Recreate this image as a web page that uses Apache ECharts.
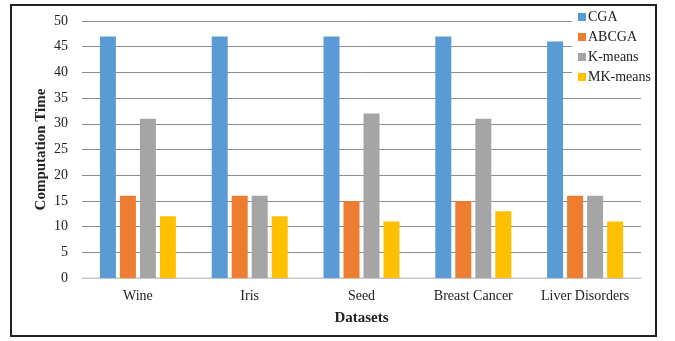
<!DOCTYPE html>
<html><head><meta charset="utf-8">
<script src="https://cdn.jsdelivr.net/npm/echarts@6/dist/echarts.min.js"></script>
<style>html,body{margin:0;padding:0;background:#fff}#c{width:675px;height:341px}</style>
</head><body><div id="c"></div>
<script>
const categories = ['Wine', 'Iris', 'Seed', 'Breast Cancer', 'Liver Disorders'];
const seriesNames = ['CGA', 'ABCGA', 'K-means', 'MK-means'];
const cga = [47, 47, 47, 47, 46];
const abcga = [16, 16, 15, 15, 16];
const kmeans = [31, 16, 32, 31, 16];
const mkmeans = [12, 12, 11, 13, 11];
const yTicks = {min: 0, max: 50, interval: 5};
const colors = ['#5B9BD5', '#ED7D31', '#A5A5A5', '#FFC000'];
const values = [cga, abcga, kmeans, mkmeans];
const font = 'Liberation Serif';

const chart = echarts.init(document.getElementById('c'));
chart.setOption({
  animation: false,
  backgroundColor: '#fff',
  textStyle: {fontFamily: font},
  graphic: [{type: 'rect', shape: {x: 11, y: 5, width: 645, height: 331}, style: {fill: 'none', stroke: '#222', lineWidth: 2}, z: -1}],
  grid: {left: 82, right: 34, top: 21, bottom: 63},
  legend: {
    orient: 'vertical', left: 572, top: 8, itemWidth: 8, itemHeight: 8, itemGap: 6,
    backgroundColor: '#fff', padding: [2, 4, 2, 6],
    textStyle: {fontFamily: font, fontSize: 14, color: '#222', padding: [0, 0, 0, -3]},
    icon: 'rect', data: seriesNames, z: 10
  },
  xAxis: {
    type: 'category', data: categories,
    name: 'Datasets', nameLocation: 'middle', nameGap: 33,
    nameTextStyle: {fontFamily: font, fontWeight: 'bold', fontSize: 15, color: '#222'},
    axisTick: {show: false},
    axisLine: {lineStyle: {color: '#d9d9d9', width: 1.5}},
    axisLabel: {fontFamily: font, fontSize: 14, color: '#222', margin: 11, interval: 0}
  },
  yAxis: {
    type: 'value', min: yTicks.min, max: yTicks.max, interval: yTicks.interval,
    name: 'Computation Time', nameLocation: 'middle', nameGap: 33, nameMoveOverlap: false,
    nameTextStyle: {fontFamily: font, fontWeight: 'bold', fontSize: 15, color: '#222'},
    axisLine: {show: false}, axisTick: {show: false},
    splitLine: {lineStyle: {color: '#8c8c8c', width: 1}},
    axisLabel: {fontFamily: font, fontSize: 14, color: '#222', margin: 14}
  },
  series: seriesNames.map((n, i) => ({
    name: n, type: 'bar', data: values[i], barWidth: 16, barGap: '25%', barCategoryGap: '32%',
    itemStyle: {color: colors[i]}
  }))
});
</script></body></html>
